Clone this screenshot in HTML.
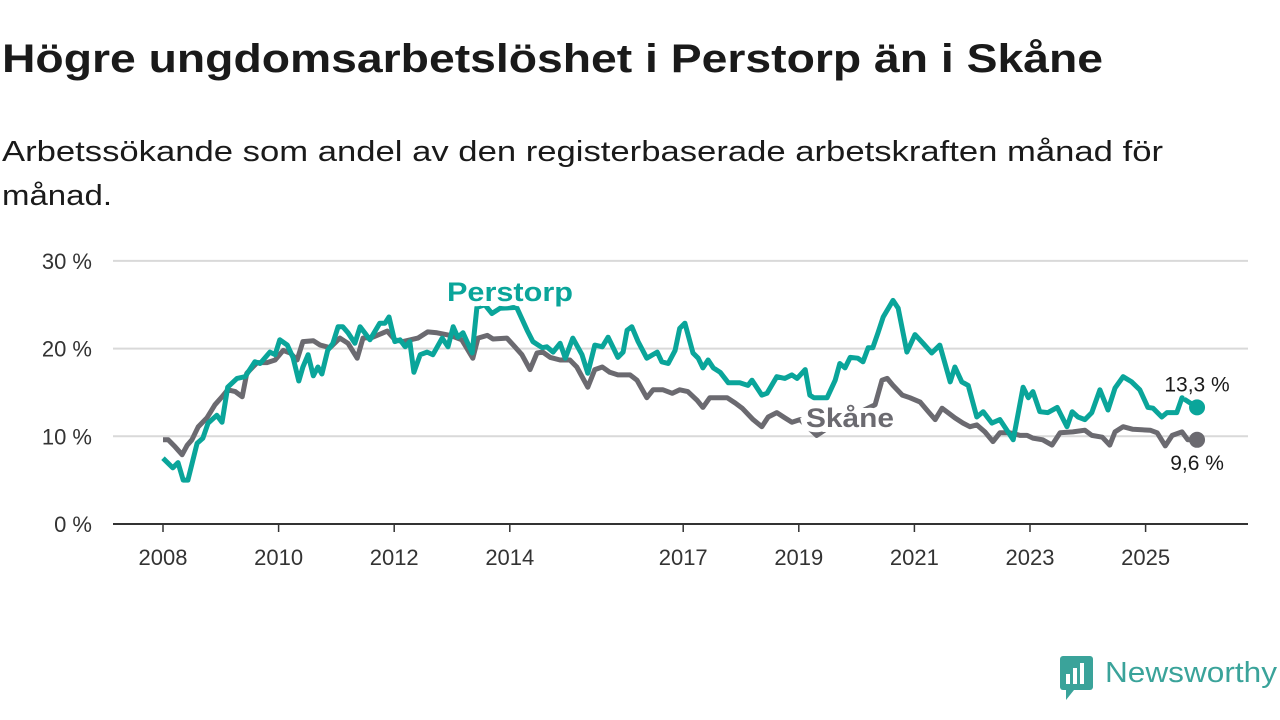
<!DOCTYPE html>
<html><head><meta charset="utf-8"><style>
html,body{margin:0;padding:0;background:#fff;}
svg{display:block;font-family:"Liberation Sans",sans-serif;}
</style></head><body>
<svg id="chart" width="1280" height="720" viewBox="0 0 1280 720">
<text x="2" y="72" font-size="40" font-weight="bold" fill="#1a1a1a" textLength="1101" lengthAdjust="spacingAndGlyphs">Högre ungdomsarbetslöshet i Perstorp än i Skåne</text>
<text x="2" y="161" font-size="29" fill="#1a1a1a" textLength="1161" lengthAdjust="spacingAndGlyphs">Arbetssökande som andel av den registerbaserade arbetskraften månad för</text>
<text x="2" y="205" font-size="29" fill="#1a1a1a" textLength="110" lengthAdjust="spacingAndGlyphs">månad.</text>
<g id="grid"></g>
<g id="series"></g>
<g>
<rect x="1060" y="656" width="33" height="34" rx="3" fill="#3aa39a"/>
<path d="M1066 690 L1066 700 L1074 690 Z" fill="#3aa39a"/>
<rect x="1066" y="674" width="4" height="10" fill="#fff"/>
<rect x="1073" y="668" width="4" height="16" fill="#fff"/>
<rect x="1080" y="663" width="4" height="21" fill="#fff"/>
<text x="1105" y="682" font-size="29" fill="#3aa39a" textLength="172" lengthAdjust="spacingAndGlyphs">Newsworthy</text>
</g>
</svg>
<script>
const yTicks = [0, 10, 20, 30];
const yTickLabels = ["0 %", "10 %", "20 %", "30 %"];
const xTicks = [2008, 2010, 2012, 2014, 2017, 2019, 2021, 2023, 2025];
const perstorpDates = [2008.0,2008.17,2008.26,2008.35,2008.43,2008.59,2008.69,2008.78,2008.93,2009.02,2009.12,2009.28,2009.42,2009.59,2009.68,2009.85,2009.94,2010.02,2010.15,2010.25,2010.35,2010.42,2010.51,2010.60,2010.68,2010.75,2010.85,2010.94,2011.03,2011.11,2011.20,2011.32,2011.41,2011.49,2011.58,2011.75,2011.84,2011.91,2012.01,2012.10,2012.19,2012.27,2012.34,2012.45,2012.57,2012.67,2012.83,2012.93,2013.02,2013.10,2013.19,2013.35,2013.43,2013.57,2013.69,2013.83,2014.12,2014.30,2014.40,2014.56,2014.64,2014.75,2014.87,2014.96,2015.09,2015.25,2015.35,2015.47,2015.60,2015.70,2015.87,2015.96,2016.03,2016.11,2016.22,2016.37,2016.55,2016.63,2016.74,2016.86,2016.94,2017.03,2017.17,2017.26,2017.34,2017.43,2017.52,2017.64,2017.78,2017.98,2018.12,2018.19,2018.36,2018.45,2018.62,2018.76,2018.88,2018.97,2019.11,2019.19,2019.26,2019.49,2019.63,2019.71,2019.80,2019.89,2020.02,2020.11,2020.20,2020.28,2020.37,2020.46,2020.63,2020.72,2020.87,2021.01,2021.15,2021.30,2021.44,2021.62,2021.70,2021.82,2021.93,2022.08,2022.19,2022.34,2022.48,2022.71,2022.88,2022.97,2023.05,2023.17,2023.31,2023.47,2023.64,2023.73,2023.83,2023.95,2024.07,2024.21,2024.35,2024.47,2024.61,2024.76,2024.90,2025.04,2025.13,2025.28,2025.37,2025.54,2025.63,2025.89];
const perstorpValues = [7.5,6.4,7.0,5.0,5.0,9.2,9.8,11.5,12.4,11.6,15.6,16.6,16.8,18.5,18.3,19.6,19.3,21.0,20.4,19.0,16.3,17.9,19.3,16.9,17.9,17.1,19.8,20.6,22.5,22.5,21.8,20.6,22.5,21.8,21.0,22.9,22.9,23.6,20.8,21.0,20.2,20.8,17.3,19.3,19.6,19.3,21.2,20.2,22.5,21.3,21.8,19.5,24.7,25.0,24.0,24.6,24.7,22.1,20.8,20.1,20.2,19.6,20.6,18.9,21.2,19.3,17.2,20.4,20.2,21.3,19.0,19.6,22.1,22.5,20.8,18.9,19.6,18.5,18.3,19.8,22.3,22.9,19.5,18.9,17.8,18.7,17.8,17.3,16.1,16.1,15.8,16.4,14.7,14.9,16.8,16.6,17.0,16.6,17.6,14.7,14.4,14.4,16.4,18.3,17.8,19.0,18.9,18.5,20.1,20.1,21.8,23.6,25.5,24.6,19.6,21.6,20.6,19.5,20.4,16.2,17.9,16.2,15.8,12.2,12.8,11.5,11.9,9.6,15.6,14.4,15.1,12.8,12.7,13.3,11.1,12.8,12.2,11.9,12.7,15.3,13.0,15.5,16.8,16.2,15.3,13.3,13.2,12.2,12.7,12.7,14.4,13.3];
const skaneDates = [2008.0,2008.09,2008.21,2008.33,2008.42,2008.50,2008.61,2008.76,2008.90,2009.02,2009.12,2009.25,2009.37,2009.45,2009.63,2009.80,2009.94,2010.08,2010.20,2010.32,2010.42,2010.60,2010.72,2010.89,2011.06,2011.20,2011.36,2011.46,2011.63,2011.88,2012.01,2012.15,2012.41,2012.58,2012.74,2012.97,2013.17,2013.36,2013.45,2013.61,2013.71,2013.95,2014.06,2014.21,2014.35,2014.47,2014.57,2014.70,2014.87,2015.04,2015.16,2015.35,2015.47,2015.60,2015.73,2015.87,2016.08,2016.20,2016.37,2016.48,2016.65,2016.81,2016.94,2017.08,2017.24,2017.34,2017.46,2017.76,2017.90,2018.02,2018.21,2018.36,2018.47,2018.62,2018.76,2018.88,2019.02,2019.31,2019.63,2019.97,2020.32,2020.44,2020.53,2020.63,2020.79,2020.92,2021.10,2021.24,2021.36,2021.48,2021.56,2021.70,2021.84,2021.96,2022.08,2022.22,2022.36,2022.48,2022.65,2022.83,2022.95,2023.05,2023.22,2023.38,2023.52,2023.74,2023.95,2024.07,2024.25,2024.38,2024.47,2024.61,2024.78,2025.08,2025.20,2025.34,2025.46,2025.63,2025.73,2025.89];
const skaneValues = [9.6,9.6,8.8,7.9,9.0,9.6,11.1,12.1,13.6,14.5,15.3,15.1,14.5,17.2,18.4,18.4,18.7,19.8,19.5,18.7,20.8,20.9,20.4,20.1,21.2,20.6,18.9,21.2,21.3,22.0,21.0,20.8,21.2,21.9,21.8,21.5,21.0,18.9,21.2,21.5,21.1,21.2,20.4,19.3,17.6,19.5,19.6,19.0,18.7,18.7,17.9,15.6,17.6,17.9,17.3,17.0,17.0,16.4,14.4,15.3,15.3,14.9,15.3,15.1,14.1,13.3,14.4,14.4,13.8,13.2,11.9,11.1,12.2,12.7,12.1,11.6,11.9,10.1,11.5,12.5,13.6,16.4,16.6,15.8,14.7,14.4,13.9,12.8,11.9,13.2,12.8,12.1,11.5,11.1,11.3,10.5,9.4,10.4,10.4,10.1,10.1,9.8,9.6,9.0,10.4,10.5,10.7,10.1,9.9,9.0,10.5,11.1,10.8,10.7,10.4,8.9,10.1,10.5,9.6,9.6];

const NS = "http://www.w3.org/2000/svg";
const X0 = 2008, PX0 = 163, PXY = 57.8;
const xs = d => PX0 + (d - X0) * PXY;
const ys = v => 524 - v * 8.77;
function mk(tag, attrs, parent, text) {
  const e = document.createElementNS(NS, tag);
  for (const k in attrs) e.setAttribute(k, attrs[k]);
  if (text !== undefined) e.textContent = text;
  parent.appendChild(e); return e;
}
const grid = document.getElementById('grid');
const ser = document.getElementById('series');
yTicks.forEach((t, i) => {
  if (t > 0) {
    const l = mk('line', {x1:113, x2:1248, y1:ys(t), y2:ys(t), stroke:'#d9d9d9', 'stroke-width':2}, grid);
    
    
  }
  const tx = mk('text', {x:92, y:ys(t)+8, 'font-size':22, fill:'#333', 'text-anchor':'end'}, grid, yTickLabels[i]);
  
  
});
const ax = mk('line', {x1:113, x2:1248, y1:524, y2:524, stroke:'#333', 'stroke-width':2}, grid);


xTicks.forEach(t => {
  const tk = mk('line', {x1:xs(t), x2:xs(t), y1:524, y2:532, stroke:'#333', 'stroke-width':1.5}, grid);
  
  
  const tx = mk('text', {x:xs(t), y:565, 'font-size':22, fill:'#333', 'text-anchor':'middle'}, grid, String(t));
  
  
});
function line(dates, vals, color, name) {
  const d = dates.map((t, i) => (i ? 'L' : 'M') + xs(t).toFixed(1) + ' ' + ys(vals[i]).toFixed(1)).join(' ');
  const p = mk('path', {d:d, fill:'none', stroke:color, 'stroke-width':5, 'stroke-linejoin':'round'}, ser);
  
  
}
const TEAL = '#0aa59a', GRAY = '#6b6a70';
line(skaneDates, skaneValues, GRAY, 'skane-line');
line(perstorpDates, perstorpValues, TEAL, 'perstorp-line');
const lp = perstorpDates.length - 1, ls = skaneDates.length - 1;
const d1 = mk('circle', {cx:xs(perstorpDates[lp]), cy:ys(perstorpValues[lp]), r:8, fill:TEAL}, ser);


const d2 = mk('circle', {cx:xs(skaneDates[ls]), cy:ys(skaneValues[ls]), r:8, fill:GRAY}, ser);


const fmt = v => v.toFixed(1).replace('.', ',') + ' %';
const v1 = mk('text', {x:xs(perstorpDates[lp]), y:ys(perstorpValues[lp])-16, 'font-size':21, fill:'#1a1a1a', 'text-anchor':'middle', stroke:'#fff', 'stroke-width':6, 'paint-order':'stroke'}, ser, fmt(perstorpValues[lp]));


const v2 = mk('text', {x:xs(skaneDates[ls]), y:ys(skaneValues[ls])+30, 'font-size':21, fill:'#1a1a1a', 'text-anchor':'middle', stroke:'#fff', 'stroke-width':6, 'paint-order':'stroke'}, ser, fmt(skaneValues[ls]));


const l1 = mk('text', {x:447, y:301, 'font-size':27, 'font-weight':'bold', fill:TEAL, stroke:'#fff', 'stroke-width':10, 'paint-order':'stroke', textLength:126, lengthAdjust:'spacingAndGlyphs'}, ser, 'Perstorp');


const l2 = mk('text', {x:806, y:427, 'font-size':27, 'font-weight':'bold', fill:GRAY, stroke:'#fff', 'stroke-width':10, 'paint-order':'stroke', textLength:88, lengthAdjust:'spacingAndGlyphs'}, ser, 'Skåne');


</script>
</body></html>
